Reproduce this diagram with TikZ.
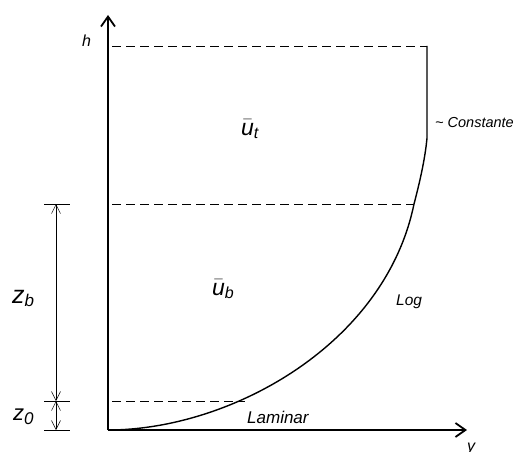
\documentclass[tikz,border=0pt]{standalone}
\usepackage{fontspec}
\setmainfont{Liberation Sans}
\usetikzlibrary{arrows.meta}
\begin{document}
\begin{tikzpicture}[x=1pt,y=-1pt,
  axis/.style={line width=1.8pt,-{Straight Barb[length=10pt,width=14pt,line width=1.8pt]}},
  dashline/.style={dash pattern=on 9pt off 5pt,line width=0.7pt},
  dim/.style={line width=0.5pt,{Straight Barb[length=9pt,width=9pt,line width=0.5pt]}-{Straight Barb[length=9pt,width=9pt,line width=0.5pt]}},
  tick/.style={line width=0.8pt},
  lbl/.style={inner sep=0pt,anchor=base west,font=\itshape}]
\useasboundingbox (0,0) rectangle (514,452);
% coordinates
\coordinate (O) at (108,430);
\coordinate (H) at (108,15);
\coordinate (Y) at (467,430);
\coordinate (t1) at (427,46);
\coordinate (t2) at (427,138);
\coordinate (a1) at (112,46);
\coordinate (b0) at (112,204);
\coordinate (b1) at (414,204);
\coordinate (c0) at (112,401);
\coordinate (c1) at (245,401);
\coordinate (d1) at (56,204);
\coordinate (d2) at (56,401);
\coordinate (d3) at (56,430);
% dashed lines
\draw[dashline] (a1) -- (t1);
\draw[dashline] (b0) -- (b1);
\draw[dashline] (c0) -- (c1);
% profile
\draw[line width=1.4pt,line join=round] (O) .. controls (230,430) and (385,345) .. (b1) .. controls (419,185) and (425,160) .. (t2) -- (t1);
% axes
\draw[axis] (O) -- (H);
\draw[axis] (O) -- (Y);
% dimension
\draw[tick] (44,204) -- (70,204);
\draw[tick] (44,401) -- (70,401);
\draw[tick] (44,430) -- (70,430);
\draw[dim] (d1) -- (d2);
\draw[dim] (d2) -- (d3);
% labels
\node[lbl,font=\itshape\fontsize{16}{16}\selectfont] (h) at (82,47) {h};
\node[lbl,anchor=north west,font=\itshape\fontsize{16}{16}\selectfont] (y) at (467,443) {y};
\node[lbl,font=\itshape\fontsize{23}{23}\selectfont] (ut) at (241,135) {$\bar{\hbox{\itshape u}}_{\hbox{\itshape\fontsize{16}{16}\selectfont t}}$};
\node[lbl,font=\itshape\fontsize{23}{23}\selectfont] (ub) at (212,295) {$\bar{\hbox{\itshape u}}_{\hbox{\itshape\fontsize{16}{16}\selectfont b}}$};
\node[lbl,font=\itshape\fontsize{25}{25}\selectfont] (zb) at (12,303) {z$_{\hbox{\itshape\fontsize{17}{17}\selectfont b}}$};
\node[lbl,font=\itshape\fontsize{22}{22}\selectfont] (z0) at (13,420) {z$_{\hbox{\itshape\fontsize{17}{17}\selectfont 0}}$};
\node[lbl,font=\itshape\fontsize{14.5}{14.5}\selectfont] (ct) at (435,127) {\char`\~{} Constante};
\node[lbl,font=\itshape\fontsize{15.5}{15.5}\selectfont] (log) at (396,305) {Log};
\node[lbl,font=\itshape\fontsize{17}{17}\selectfont] (lam) at (247,423) {Laminar};
\end{tikzpicture}
\end{document}
